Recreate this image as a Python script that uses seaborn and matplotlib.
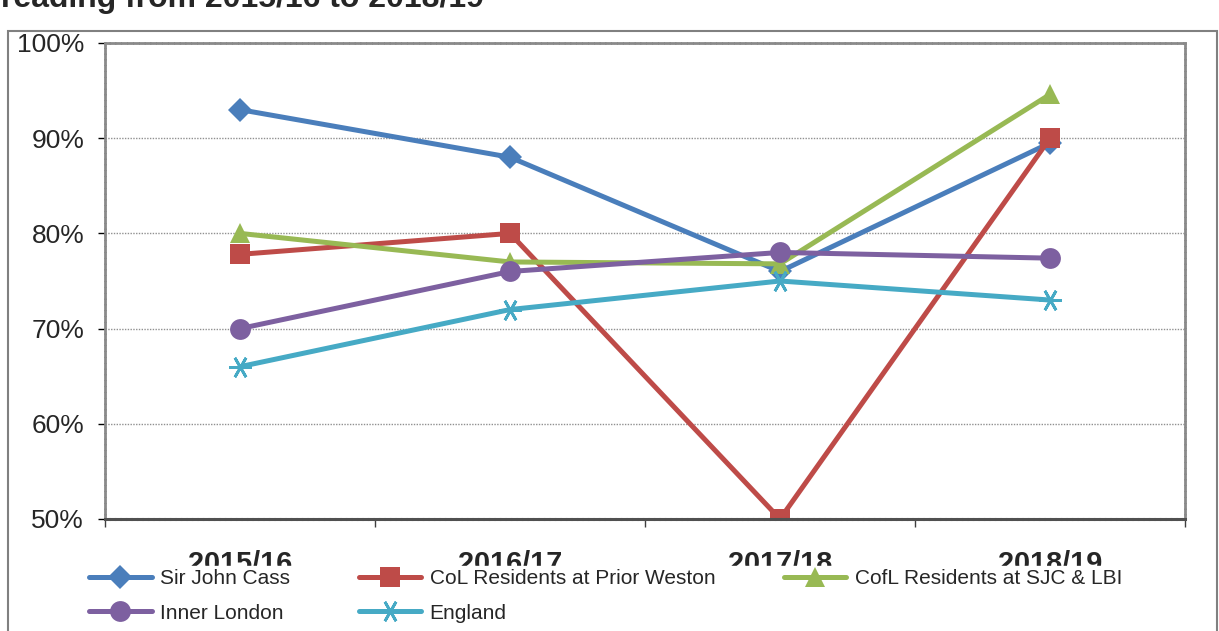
import matplotlib
matplotlib.use("Agg")
from matplotlib import pyplot as plt
from matplotlib.patches import Rectangle
import pandas as pd
import seaborn as sns

# data
years = ["2015/16", "2016/17", "2017/18", "2018/19"]
sir_john_cass = [93, 88, 76, 89.5]
col_prior_weston = [77.8, 80, 50, 90]
cofl_sjc_lbi = [80, 77, 76.8, 94.6]
inner_london = [70, 76, 78, 77.4]
england = [66, 72, 75, 73]

series_names = ["Sir John Cass", "CoL Residents at Prior Weston",
                "CofL Residents at SJC & LBI", "Inner London", "England"]
series_values = [sir_john_cass, col_prior_weston, cofl_sjc_lbi, inner_london, england]
colors = ["#4A7EBB", "#BE4B48", "#98B954", "#7D60A0", "#46AAC5"]
markers = ["D", "s", "^", "o", (6, 2, 30)]
msizes = [12, 14, 15, 15, 16]

sns.set_style("white")
plt.rcParams['font.family'] = ['Liberation Sans', 'DejaVu Sans']

fig = plt.figure(figsize=(12.19, 6.31), dpi=100)
W, H = 1219, 631
ax = fig.add_axes([105 / W, 1 - 519 / H, (1185 - 105) / W, (519 - 43) / H])

for name, vals, c, m, ms in zip(series_names, series_values, colors, markers, msizes):
    df = pd.DataFrame({"year": years, "value": vals})
    sns.lineplot(data=df, x="year", y="value", ax=ax, color=c, label=name,
                 marker=m, markersize=ms, linewidth=3.6, markeredgecolor=c,
                 markeredgewidth=2 if m == (6, 2, 30) else 0, sort=False)

# osy
ax.set_ylim(50, 100)
ax.set_xlim(-0.5, 3.5)
ax.set_yticks([50, 60, 70, 80, 90, 100])
ax.set_yticklabels([f"{v}%" for v in [50, 60, 70, 80, 90, 100]], fontsize=19)
ax.set_xticks([-0.5, 0.5, 1.5, 2.5, 3.5])
ax.set_xticklabels([])
ax.set_xticks(range(4), minor=True)
ax.set_xticklabels(years, minor=True, fontsize=20.8, fontweight="bold")
ax.tick_params(axis="x", which="minor", length=0, pad=22)
ax.tick_params(axis="x", which="major", length=6, width=1, color="#404040", direction="out", bottom=True)
ax.tick_params(axis="y", length=5, width=1, color="black", pad=10, left=True)
ax.set(xlabel="", ylabel="")
ax.yaxis.grid(True, linestyle=(0, (1, 1)), color="#909090", linewidth=1)
for s in ["left", "right", "top"]:
    ax.spines[s].set_linestyle((0, (1.2, 0.9)))
    ax.spines[s].set_color("#8a8a8a")
    ax.spines[s].set_linewidth(2)
ax.spines["bottom"].set_linestyle((0, (1.2, 0.6)))
ax.spines["bottom"].set_color("#505050")
ax.spines["bottom"].set_linewidth(2.2)

# legenda
handles, labels = ax.get_legend_handles_labels()
ax.get_legend().remove()
order = [0, 3, 1, 4, 2]
fig.legend([handles[i] for i in order], [labels[i] for i in order],
           loc="upper left", bbox_to_anchor=(86 / W, 1 - 566 / H), ncol=3,
           fontsize=15, frameon=True, facecolor="white", edgecolor="white",
           framealpha=1, borderpad=0.15, handlelength=3.0, handletextpad=0.4,
           columnspacing=3.3, labelspacing=0.75, borderaxespad=0)

# nadpis a ramecek
fig.text(1 / W, 1 - 6.5 / H, "reading from 2015/16 to 2018/19", fontsize=23,
         fontweight="bold", ha="left", va="baseline")
fig.patches.append(Rectangle((8 / W, -0.1), (1217 - 8) / W, 0.1 + 1 - 31 / H,
                             transform=fig.transFigure, fill=False,
                             edgecolor="#808080", linewidth=1.5))

fig.savefig("out.png", dpi=100)
plt.close(fig)
